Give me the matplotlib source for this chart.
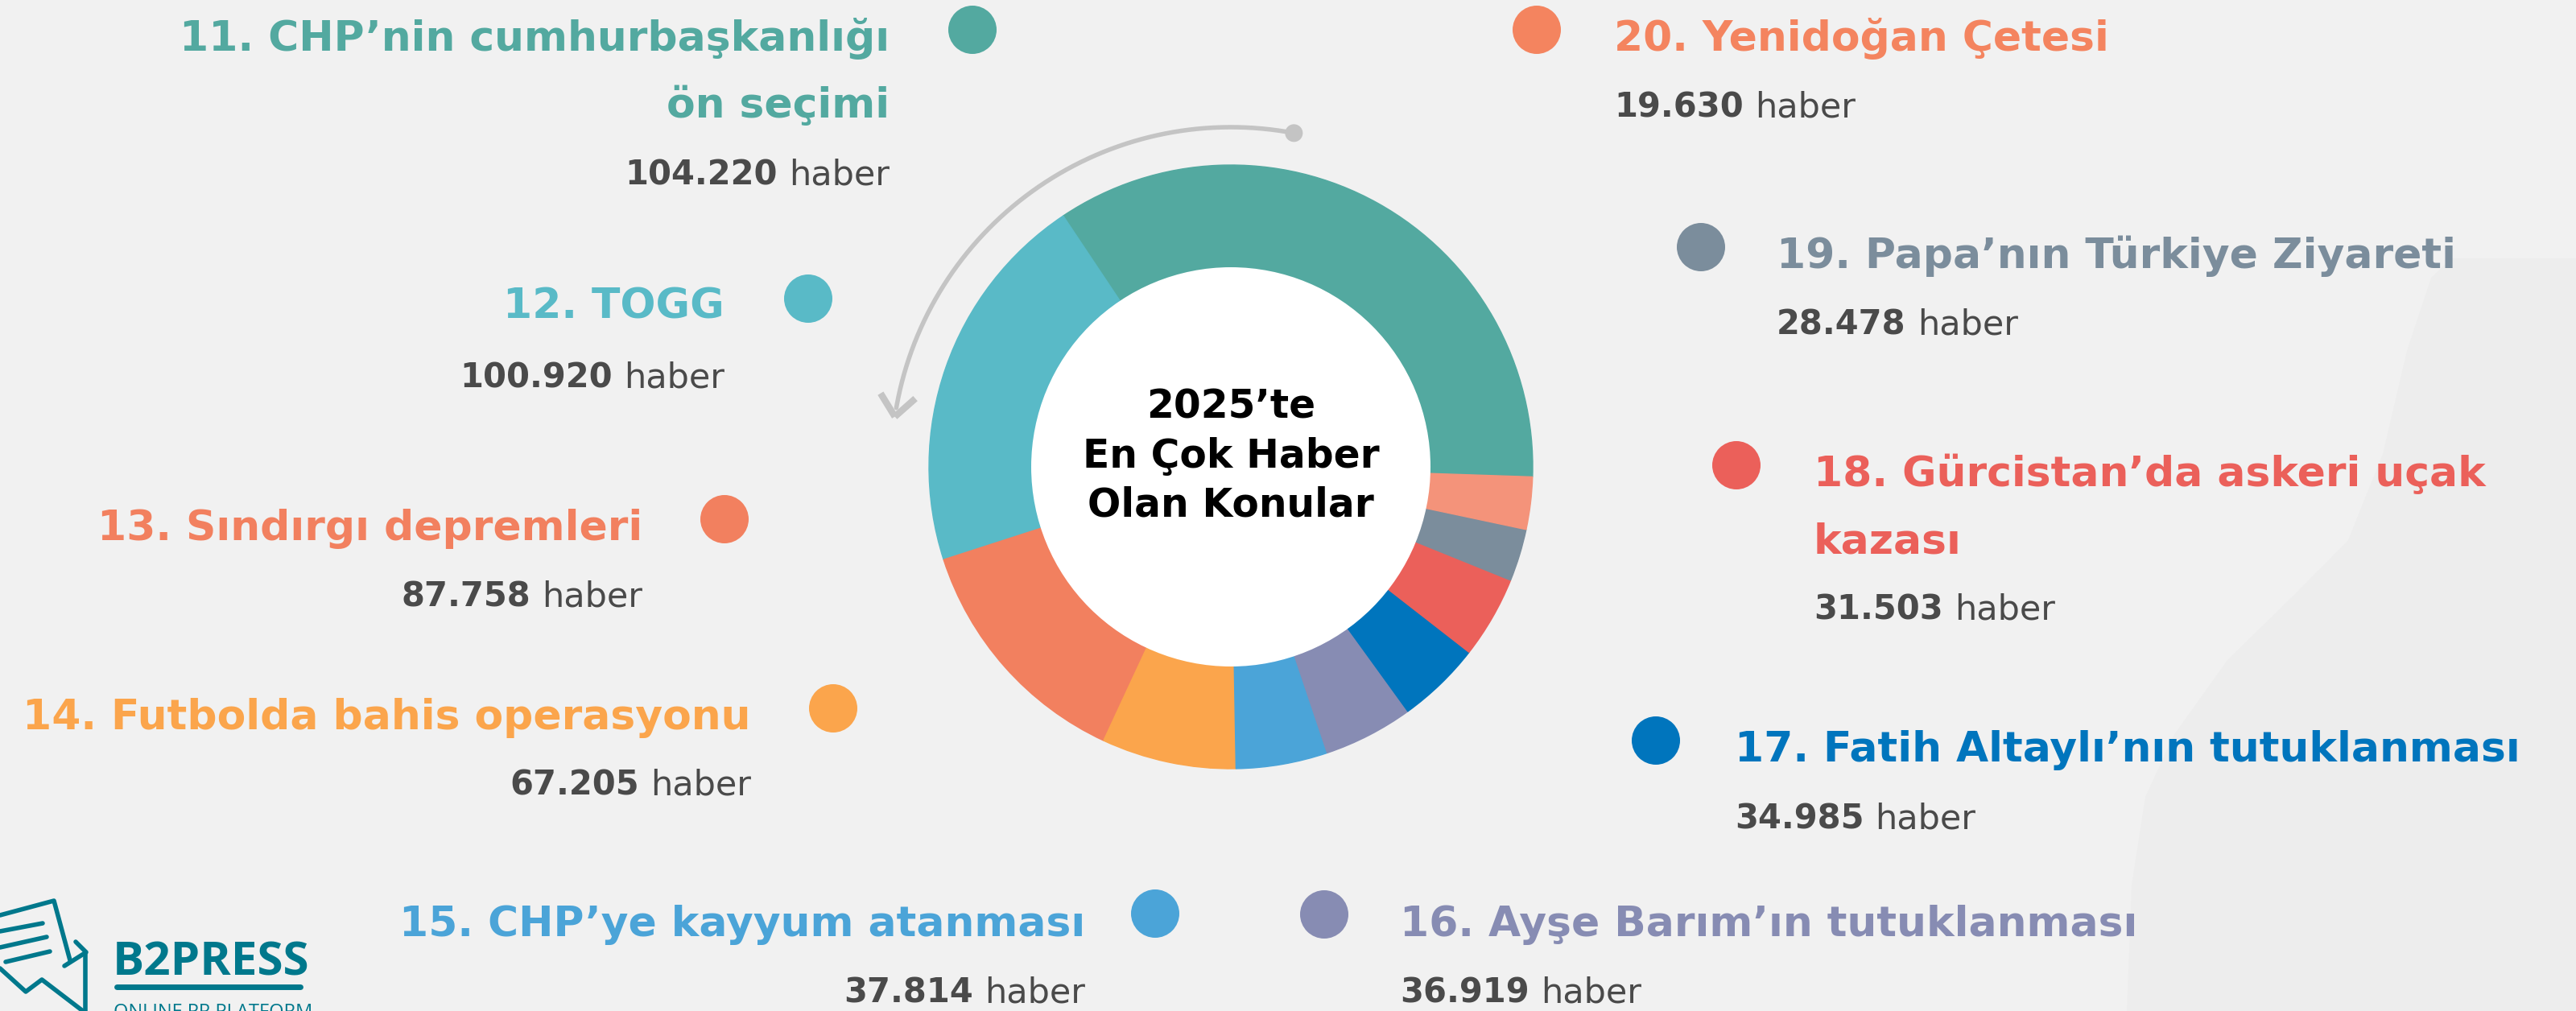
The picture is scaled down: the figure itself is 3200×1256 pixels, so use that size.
import numpy as np
import matplotlib
matplotlib.use('Agg')
import matplotlib.pyplot as plt
from matplotlib.patches import Circle, Polygon

ranks = [11, 12, 13, 14, 15, 16, 17, 18, 19, 20]
topics = [
    'CHP’nin cumhurbaşkanlığı\nön seçimi',
    'TOGG',
    'Sındırgı depremleri',
    'Futbolda bahis operasyonu',
    'CHP’ye kayyum atanması',
    'Ayşe Barım’ın tutuklanması',
    'Fatih Altaylı’nın tutuklanması',
    'Gürcistan’da askeri uçak\nkazası',
    'Papa’nın Türkiye Ziyareti',
    'Yenidoğan Çetesi',
]
news_counts = [104220, 100920, 87758, 67205, 37814, 36919, 34985, 31503, 28478, 19630]
# ring shares as drawn in the graphic (percent of the circle)
slice_pct = [34.9, 20.6, 13.1, 7.2, 4.9, 4.8, 4.5, 4.4, 2.8, 2.8]

slice_colors = ['#53a9a0', '#59bac7', '#f2805f', '#fba54c', '#4ba4d8',
                '#878cb3', '#0075bd', '#eb605a', '#7b8d9c', '#f4937a']
label_colors = ['#53a9a0', '#59bac7', '#f2805f', '#fba54c', '#4ba4d8',
                '#878cb3', '#0075bd', '#eb605a', '#7b8d9c', '#f4845f']

center_title = ['2025’te', 'En Çok Haber', 'Olan Konular']

# ---- layout (pixels, y down) ----
W, H = 3200, 1256
cx, cy = 1529, 580
r_out, r_in = 375, 248

# side, dot x, dot y, text x, title baseline, value baseline
layout = [
    ('L', 1208, 37, 1105, 63, 229),
    ('L', 1004, 371, 900, 396, 481),
    ('L', 900, 645, 798, 671, 753),
    ('L', 1035, 880, 933, 906, 987),
    ('L', 1435, 1135, 1348, 1163, 1245),
    ('R', 1645, 1136, 1739, 1163, 1245),
    ('R', 2057, 920, 2155, 946, 1030),
    ('R', 2157, 578, 2253, 604, 769),
    ('R', 2113, 307, 2207, 333, 415),
    ('R', 1909, 37, 2005, 63, 146),
]
line_gap = 83

bg = '#f1f1f1'
txt_dark = '#4a4a4a'
arrow_col = '#c4c4c4'
font = 'DejaVu Sans'

fig = plt.figure(figsize=(W / 100, H / 100), dpi=100)
fig.patch.set_facecolor(bg)
ax = fig.add_axes([0, 0, 1, 1])
ax.set_facecolor(bg)

# subtle background shape on the right
shape = [(3200, 321), (3045, 321), (3020, 345), (2990, 436), (2960, 564),
         (2917, 671), (2850, 739), (2767, 820), (2700, 914), (2665, 990),
         (2648, 1100), (2642, 1256), (3200, 1256)]
ax.add_patch(Polygon(shape, closed=True, facecolor='#ededed', edgecolor='none', zorder=0))

# donut (y axis is inverted below, so clockwise here shows as counter-clockwise)
wedges, _ = ax.pie(slice_pct, colors=slice_colors, startangle=1.9, counterclock=False,
                   radius=r_out, center=(cx, cy),
                   wedgeprops=dict(width=r_out - r_in, linewidth=1))
for wdg, c in zip(wedges, slice_colors):
    wdg.set_edgecolor(c)
ax.add_patch(Circle((cx, cy), r_in, facecolor='white', edgecolor='none', zorder=3))

for i, line in enumerate(center_title):
    ax.text(cx, 520 + i * 61, line, ha='center', va='baseline', fontsize=35,
            fontweight='bold', color='black', family=font, zorder=4)

# arrow around the ring
r_arc = 422
th = np.radians(np.linspace(79.3, 170, 200))
ax.plot(cx + r_arc * np.cos(th), cy - r_arc * np.sin(th), color=arrow_col,
        lw=4, solid_capstyle='round', zorder=2)
ax.add_patch(Circle((cx + r_arc * np.cos(th[0]), cy - r_arc * np.sin(th[0])), 11,
                    facecolor=arrow_col, edgecolor='none', zorder=2))
tip_th = np.radians(171.5)
tip = np.array([cx + r_arc * np.cos(tip_th), cy - r_arc * np.sin(tip_th)])
back = np.array([np.sin(tip_th), np.cos(tip_th)])  # opposite to travel direction
for a in (-40, 40):
    ang = np.radians(a)
    rot = np.array([[np.cos(ang), -np.sin(ang)], [np.sin(ang), np.cos(ang)]])
    end = tip + 34 * rot @ back
    ax.plot([tip[0], end[0]], [tip[1], end[1]], color=arrow_col, lw=6,
            solid_capstyle='butt', zorder=2)

ax.set_xlim(0, W)
ax.set_ylim(H, 0)
ax.set_aspect('equal')
ax.axis('off')

renderer = fig.canvas.get_renderer()

# labels
for rank, topic, val, col, (side, dx, dy, tx, tb, vb) in zip(
        ranks, topics, news_counts, label_colors, layout):
    ax.add_patch(Circle((dx, dy), 30, facecolor=col, edgecolor='none', zorder=3))
    ha = 'right' if side == 'L' else 'left'
    lines = f'{rank}. {topic}'.split('\n')
    for k, ln in enumerate(lines):
        ax.text(tx, tb + k * line_gap, ln, ha=ha, va='baseline', fontsize=37.4,
                fontweight='bold', color=col, family=font)
    num = f'{val:,}'.replace(',', '.')
    if side == 'L':
        t = ax.text(tx, vb, 'haber', ha='right', va='baseline', fontsize=31,
                    color=txt_dark, family=font)
        w = t.get_window_extent(renderer=renderer).width
        ax.text(tx - w - 14, vb, num, ha='right', va='baseline', fontsize=30,
                fontweight='bold', color=txt_dark, family=font)
    else:
        t = ax.text(tx, vb, num, ha='left', va='baseline', fontsize=30,
                    fontweight='bold', color=txt_dark, family=font)
        w = t.get_window_extent(renderer=renderer).width
        ax.text(tx + w + 14, vb, 'haber', ha='left', va='baseline', fontsize=31,
                color=txt_dark, family=font)

# B2PRESS logo (bottom left)
logo = '#00788c'
icon = [
    [(0, 1137), (67, 1119), (87, 1193)],
    [(80, 1200), (107, 1183)],
    [(94, 1170), (106, 1182), (106, 1260)],
    [(0, 1203), (32, 1232), (52, 1217), (103, 1256)],
    [(0, 1157), (53, 1147)],
    [(0, 1177), (58, 1164)],
    [(7, 1195), (62, 1182)],
]
for seg in icon:
    xs, ys = zip(*seg)
    ax.plot(xs, ys, color=logo, lw=4, solid_capstyle='round',
            solid_joinstyle='round', zorder=3)
ax.text(140, 1211, 'B2PRESS', ha='left', va='baseline', fontsize=42,
        fontweight='bold', color=logo, family=['Open Sans', 'DejaVu Sans'])
ax.plot([145, 373], [1226, 1226], color=logo, lw=5, solid_capstyle='round')
ax.text(141, 1246, 'ONLINE PR PLATFORM', ha='left', va='top', fontsize=17,
        color=logo, family=['Open Sans', 'DejaVu Sans'])

fig.savefig('out.png', dpi=100, facecolor=bg)
